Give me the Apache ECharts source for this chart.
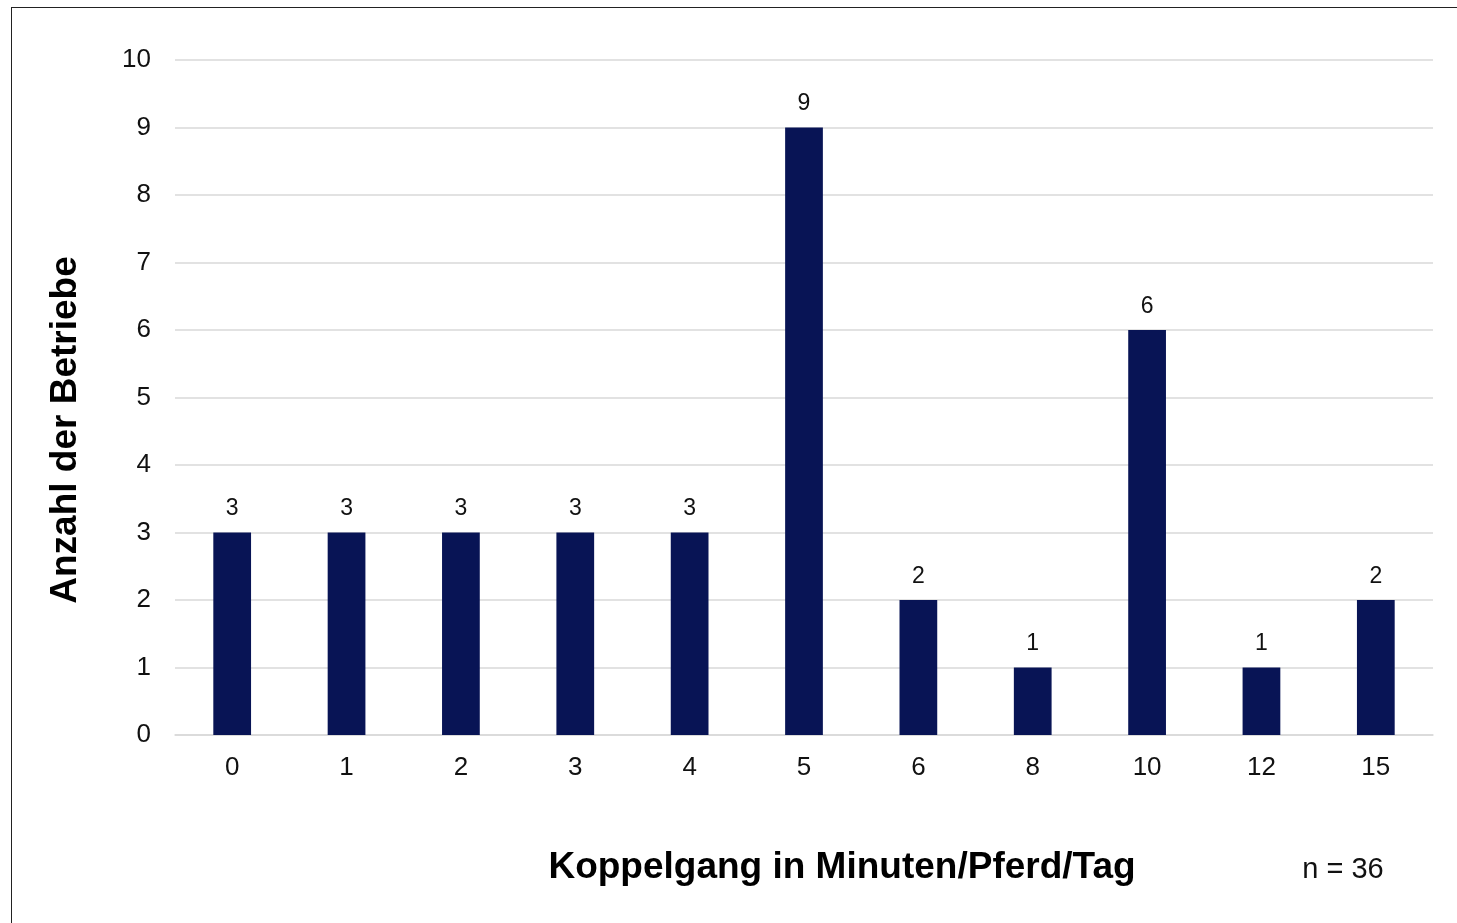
<!DOCTYPE html>
<html>
<head>
<meta charset="utf-8">
<script src="https://cdn.jsdelivr.net/npm/echarts@6/dist/echarts.min.js"></script>
<style>
  html, body { margin: 0; padding: 0; background: #fff; overflow: hidden; }
  #frame { position: absolute; left: 11px; top: 7px; width: 1500px; height: 1000px; border: 1.5px solid #222; }
  #chart { position: absolute; left: 0; top: 0; width: 1457px; height: 923px; }
</style>
</head>
<body>
<div id="frame"></div>
<div id="chart"></div>
<script>
  // Koppelgang in Minuten/Pferd/Tag
  var minuten = ['0', '1', '2', '3', '4', '5', '6', '8', '10', '12', '15'];
  var betriebe = [3, 3, 3, 3, 3, 9, 2, 1, 6, 1, 2];
  var yTicks = [0, 10, 1];

  var font = 'Liberation Sans, Arial, sans-serif';
  var myChart = echarts.init(document.getElementById('chart'));
  myChart.setOption({
    animation: false,
    grid: { left: 175, right: 24, top: 60, bottom: 188 },
    xAxis: {
      type: 'category',
      data: minuten,
      axisLine: { lineStyle: { color: '#d9d9d9', width: 1.5 } },
      axisTick: { show: false },
      axisLabel: { color: '#111', fontSize: 26, fontFamily: font, margin: 20 }
    },
    yAxis: {
      type: 'value',
      min: yTicks[0],
      max: yTicks[1],
      interval: yTicks[2],
      axisLine: { show: false },
      axisTick: { show: false },
      splitLine: { lineStyle: { color: '#d9d9d9', width: 1.5 } },
      axisLabel: { color: '#111', fontSize: 26, fontFamily: font, margin: 24 }
    },
    series: [{
      type: 'bar',
      data: betriebe,
      barWidth: '33%',
      itemStyle: { color: '#081455' },
      label: {
        show: true,
        position: 'top',
        distance: 12,
        color: '#111',
        fontSize: 23,
        fontFamily: font
      }
    }],
    graphic: [
      {
        type: 'text',
        x: 66, y: 430,
        rotation: Math.PI / 2,
        style: {
          text: 'Anzahl der Betriebe',
          fill: '#000',
          font: 'bold 37px ' + font,
          align: 'center',
          verticalAlign: 'middle'
        }
      },
      {
        type: 'text',
        x: 842, y: 868,
        style: {
          text: 'Koppelgang in Minuten/Pferd/Tag',
          fill: '#000',
          font: 'bold 37px ' + font,
          align: 'center',
          verticalAlign: 'middle'
        }
      },
      {
        type: 'text',
        x: 1343, y: 870,
        style: {
          text: 'n = 36',
          fill: '#111',
          font: '29px ' + font,
          align: 'center',
          verticalAlign: 'middle'
        }
      }
    ]
  });
</script>
</body>
</html>
